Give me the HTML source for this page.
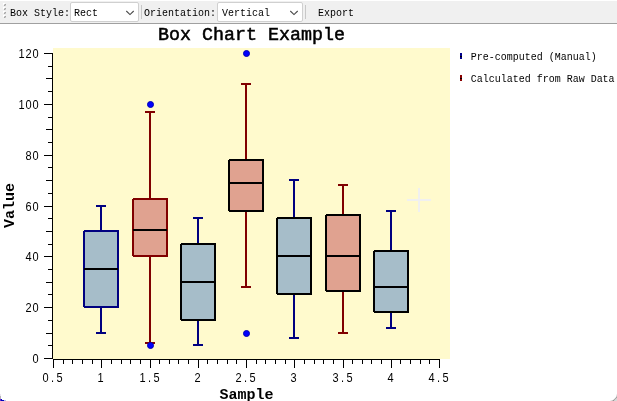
<!DOCTYPE html>
<html lang="en">
<head>
<meta charset="utf-8">
<title>Box Chart Example</title>
<style>
html,body{margin:0;padding:0;background:#fff;}
body{width:617px;height:401px;overflow:hidden;position:relative;font-family:"Liberation Mono",monospace;font-size:12px;color:#000;}
svg{display:block;overflow:visible;}
svg text{font-family:"Liberation Sans",sans-serif;fill:#000;text-anchor:middle;}
svg text.m{font-family:"Liberation Mono",monospace;text-anchor:start;stroke:#000;stroke-width:0;white-space:pre;}
.t{font-family:"Liberation Mono",monospace;font-size:11.8px;line-height:16px;white-space:pre;transform-origin:0 0;transform:scaleX(0.8474);}
#toolbar{position:absolute;left:0;top:1px;width:617px;height:22px;background:#f0f0f0;border-bottom:1px solid #a0a0a0;}
#toolbar .grip{position:absolute;left:3px;top:2px;}
#toolbar .lbl{position:absolute;top:4px;height:16px;}
#toolbar .combo{position:absolute;top:1px;height:18px;background:#fff;border:1px solid #d0d0d0;border-radius:2px;}
#toolbar .combo .val{position:absolute;left:2px;top:2px;}
#toolbar .combo .chev{position:absolute;right:3px;top:7px;}
#toolbar .sep{position:absolute;top:4px;width:1px;height:14px;background:#c8c8c8;}
#toolbar .btn{position:absolute;top:4px;height:16px;}
#chart{position:absolute;left:0;top:24px;}
</style>
</head>
<body>
<div id="toolbar">
  <svg class="grip" width="4" height="16" viewBox="0 0 4 16" shape-rendering="crispEdges"><path d="M0 0h2v1h-1v1h-1zM0 4h2v1h-1v1h-1zM0 8h2v1h-1v1h-1zM0 12h2v1h-1v1h-1z" fill="#fff"/><path d="M1 1h2v2h-2zM1 5h2v2h-2zM1 9h2v2h-2zM1 13h2v2h-2z" fill="#cacaca"/><path d="M2 1h1v1h-1zM1 2h1v1h-1zM2 5h1v1h-1zM1 6h1v1h-1zM2 9h1v1h-1zM1 10h1v1h-1zM2 13h1v1h-1zM1 14h1v1h-1z" fill="#a6a6a6"/></svg>
  <div class="lbl t" style="left:9.6px">Box Style:</div>
  <div class="combo" style="left:70px;width:67px"><div class="val t" style="left:3px">Rect</div><svg class="chev" width="10" height="6" viewBox="0 0 10 6"><path d="M1.3 1 L5 4.6 L8.7 1" fill="none" stroke="#4a4a4a" stroke-width="1.1"/></svg></div>
  <div class="sep" style="left:141px"></div>
  <div class="lbl t" style="left:144.4px">Orientation:</div>
  <div class="combo" style="left:217px;width:84px"><div class="val t" style="left:3.6px">Vertical</div><svg class="chev" width="10" height="6" viewBox="0 0 10 6"><path d="M1.3 1 L5 4.6 L8.7 1" fill="none" stroke="#4a4a4a" stroke-width="1.1"/></svg></div>
  <div class="sep" style="left:305px"></div>
  <div class="btn t" style="left:318.2px">Export</div>
</div>
<svg id="chart" width="617" height="377" viewBox="0 24 617 377">
<rect x="0" y="24" width="617" height="377" fill="#fff"/>
<rect x="53" y="48" width="397" height="311" fill="#fffacd"/>
<text class="m" transform="translate(158 39.5) scale(1.0184 1)" font-size="18" style="stroke-width:0.5px">Box Chart Example</text>
<g stroke="#000" stroke-width="1" shape-rendering="crispEdges">
<line x1="52.5" y1="53" x2="52.5" y2="359"/>
<line x1="44" y1="358.5" x2="52" y2="358.5"/>
<line x1="48" y1="345.5" x2="52" y2="345.5"/>
<line x1="46" y1="333.5" x2="52" y2="333.5"/>
<line x1="48" y1="320.5" x2="52" y2="320.5"/>
<line x1="44" y1="307.5" x2="52" y2="307.5"/>
<line x1="48" y1="294.5" x2="52" y2="294.5"/>
<line x1="46" y1="282.5" x2="52" y2="282.5"/>
<line x1="48" y1="269.5" x2="52" y2="269.5"/>
<line x1="44" y1="256.5" x2="52" y2="256.5"/>
<line x1="48" y1="244.5" x2="52" y2="244.5"/>
<line x1="46" y1="231.5" x2="52" y2="231.5"/>
<line x1="48" y1="218.5" x2="52" y2="218.5"/>
<line x1="44" y1="206.5" x2="52" y2="206.5"/>
<line x1="48" y1="193.5" x2="52" y2="193.5"/>
<line x1="46" y1="180.5" x2="52" y2="180.5"/>
<line x1="48" y1="167.5" x2="52" y2="167.5"/>
<line x1="44" y1="155.5" x2="52" y2="155.5"/>
<line x1="48" y1="142.5" x2="52" y2="142.5"/>
<line x1="46" y1="129.5" x2="52" y2="129.5"/>
<line x1="48" y1="117.5" x2="52" y2="117.5"/>
<line x1="44" y1="104.5" x2="52" y2="104.5"/>
<line x1="48" y1="91.5" x2="52" y2="91.5"/>
<line x1="46" y1="78.5" x2="52" y2="78.5"/>
<line x1="48" y1="66.5" x2="52" y2="66.5"/>
<line x1="44" y1="53.5" x2="52" y2="53.5"/>
<line x1="53" y1="359.5" x2="440" y2="359.5"/>
<line x1="53.5" y1="360" x2="53.5" y2="368"/>
<line x1="63.5" y1="360" x2="63.5" y2="364"/>
<line x1="72.5" y1="360" x2="72.5" y2="364"/>
<line x1="82.5" y1="360" x2="82.5" y2="364"/>
<line x1="92.5" y1="360" x2="92.5" y2="364"/>
<line x1="101.5" y1="360" x2="101.5" y2="368"/>
<line x1="111.5" y1="360" x2="111.5" y2="364"/>
<line x1="121.5" y1="360" x2="121.5" y2="364"/>
<line x1="130.5" y1="360" x2="130.5" y2="364"/>
<line x1="140.5" y1="360" x2="140.5" y2="364"/>
<line x1="150.5" y1="360" x2="150.5" y2="368"/>
<line x1="159.5" y1="360" x2="159.5" y2="364"/>
<line x1="169.5" y1="360" x2="169.5" y2="364"/>
<line x1="178.5" y1="360" x2="178.5" y2="364"/>
<line x1="188.5" y1="360" x2="188.5" y2="364"/>
<line x1="198.5" y1="360" x2="198.5" y2="368"/>
<line x1="207.5" y1="360" x2="207.5" y2="364"/>
<line x1="217.5" y1="360" x2="217.5" y2="364"/>
<line x1="227.5" y1="360" x2="227.5" y2="364"/>
<line x1="236.5" y1="360" x2="236.5" y2="364"/>
<line x1="246.5" y1="360" x2="246.5" y2="368"/>
<line x1="256.5" y1="360" x2="256.5" y2="364"/>
<line x1="265.5" y1="360" x2="265.5" y2="364"/>
<line x1="275.5" y1="360" x2="275.5" y2="364"/>
<line x1="285.5" y1="360" x2="285.5" y2="364"/>
<line x1="294.5" y1="360" x2="294.5" y2="368"/>
<line x1="304.5" y1="360" x2="304.5" y2="364"/>
<line x1="314.5" y1="360" x2="314.5" y2="364"/>
<line x1="323.5" y1="360" x2="323.5" y2="364"/>
<line x1="333.5" y1="360" x2="333.5" y2="364"/>
<line x1="343.5" y1="360" x2="343.5" y2="368"/>
<line x1="352.5" y1="360" x2="352.5" y2="364"/>
<line x1="362.5" y1="360" x2="362.5" y2="364"/>
<line x1="371.5" y1="360" x2="371.5" y2="364"/>
<line x1="381.5" y1="360" x2="381.5" y2="364"/>
<line x1="391.5" y1="360" x2="391.5" y2="368"/>
<line x1="400.5" y1="360" x2="400.5" y2="364"/>
<line x1="410.5" y1="360" x2="410.5" y2="364"/>
<line x1="420.5" y1="360" x2="420.5" y2="364"/>
<line x1="429.5" y1="360" x2="429.5" y2="364"/>
<line x1="439.5" y1="360" x2="439.5" y2="368"/>
</g>
<g>
<text transform="scale(0.88 1)" x="40.34" y="363" font-size="12.5">0</text>
<text transform="scale(0.88 1)" x="32.39 40.34" y="312" font-size="12.5">20</text>
<text transform="scale(0.88 1)" x="32.39 40.34" y="261" font-size="12.5">40</text>
<text transform="scale(0.88 1)" x="32.39 40.34" y="211" font-size="12.5">60</text>
<text transform="scale(0.88 1)" x="32.39 40.34" y="160" font-size="12.5">80</text>
<text transform="scale(0.88 1)" x="24.43 32.39 40.34" y="109" font-size="12.5">100</text>
<text transform="scale(0.88 1)" x="24.43 32.39 40.34" y="58" font-size="12.5">120</text>
<text transform="scale(0.88 1)" x="51.7 59.66 67.61" y="382" font-size="12.5">0.5</text>
<text transform="scale(0.88 1)" x="114.2" y="382" font-size="12.5">1</text>
<text transform="scale(0.88 1)" x="161.93 169.89 177.84" y="382" font-size="12.5">1.5</text>
<text transform="scale(0.88 1)" x="224.43" y="382" font-size="12.5">2</text>
<text transform="scale(0.88 1)" x="271.02 278.98 286.93" y="382" font-size="12.5">2.5</text>
<text transform="scale(0.88 1)" x="333.52" y="382" font-size="12.5">3</text>
<text transform="scale(0.88 1)" x="381.25 389.2 397.16" y="382" font-size="12.5">3.5</text>
<text transform="scale(0.88 1)" x="443.75" y="382" font-size="12.5">4</text>
<text transform="scale(0.88 1)" x="490.34 498.3 506.25" y="382" font-size="12.5">4.5</text>
</g>
<text class="m" transform="translate(219.5 399) scale(0.9802 1)" font-size="15.3" font-weight="bold">Sample</text>
<text class="m" transform="translate(14 228) rotate(-90) scale(0.9802 1)" font-size="15.3" font-weight="bold">Value</text>
<g stroke-width="2" stroke-linecap="butt" stroke-linejoin="bevel" shape-rendering="crispEdges" fill="none">
<g>
<path d="M101 206V231M101 307V333M96 206H106M96 333H106" stroke="#000080"/>
<rect x="84" y="231" width="34" height="76" fill="#a6bdc9" stroke="#000080"/>
<line x1="84" y1="269" x2="118" y2="269" stroke="#000"/>
</g>
<g>
<path d="M198 218V244M198 320V345M193 218H203M193 345H203" stroke="#000080"/>
<rect x="181" y="244" width="34" height="76" fill="#a6bdc9" stroke="#000000"/>
<line x1="181" y1="282" x2="215" y2="282" stroke="#000"/>
</g>
<g>
<path d="M294 180V218M294 294V338M289 180H299M289 338H299" stroke="#000080"/>
<rect x="277" y="218" width="34" height="76" fill="#a6bdc9" stroke="#000000"/>
<line x1="277" y1="256" x2="311" y2="256" stroke="#000"/>
</g>
<g>
<path d="M391 211V251M391 312V328M386 211H396M386 328H396" stroke="#000080"/>
<rect x="374" y="251" width="34" height="61" fill="#a6bdc9" stroke="#000000"/>
<line x1="374" y1="287" x2="408" y2="287" stroke="#000"/>
</g>
<g>
<path d="M150 112V199M150 256V343M145 112H155M145 343H155" stroke="#800000"/>
<rect x="133" y="199" width="34" height="57" fill="#e0a290" stroke="#800000"/>
<line x1="133" y1="230" x2="167" y2="230" stroke="#000"/>
<circle cx="150.5" cy="104.5" r="3" fill="#0000ff" stroke="#0000b4" stroke-width="1" shape-rendering="auto"/>
<circle cx="150.5" cy="345.5" r="3" fill="#0000ff" stroke="#0000b4" stroke-width="1" shape-rendering="auto"/>
</g>
<g>
<path d="M246 84V160M246 211V287M241 84H251M241 287H251" stroke="#800000"/>
<rect x="229" y="160" width="34" height="51" fill="#e0a290" stroke="#000000"/>
<line x1="229" y1="183" x2="263" y2="183" stroke="#000"/>
<circle cx="246.5" cy="53.5" r="3" fill="#0000ff" stroke="#0000b4" stroke-width="1" shape-rendering="auto"/>
<circle cx="246.5" cy="333.5" r="3" fill="#0000ff" stroke="#0000b4" stroke-width="1" shape-rendering="auto"/>
</g>
<g>
<path d="M343 185V215M343 291V333M338 185H348M338 333H348" stroke="#800000"/>
<rect x="326" y="215" width="34" height="76" fill="#e0a290" stroke="#000000"/>
<line x1="326" y1="256" x2="360" y2="256" stroke="#000"/>
</g>
</g>
<path d="M407 199h24v2h-24zM418 188h2v24h-2z" fill="#f0f0f0"/>
<g>
<rect x="460" y="53" width="2" height="6" fill="#00008b"/><rect x="460" y="56" width="2" height="1" fill="#000"/>
<text class="m" transform="translate(470.8 60) scale(0.8473 1)" font-size="11.8">Pre-computed (Manual)</text>
<rect x="460" y="75" width="2" height="6" fill="#8b0000"/><rect x="460" y="78" width="2" height="1" fill="#000"/>
<text class="m" transform="translate(470.8 82) scale(0.8473 1)" font-size="11.8">Calculated from Raw Data</text>
</g>
<g shape-rendering="crispEdges"><rect x="0" y="394" width="1" height="2" fill="#ebe6f2"/><rect x="0" y="396" width="1" height="3" fill="#b4b4b4"/><rect x="0" y="399" width="1" height="2" fill="#6a2ad0"/><rect x="1" y="399" width="1" height="1" fill="#0000c8"/><rect x="1" y="400" width="3" height="1" fill="#0000be"/><rect x="4" y="400" width="2" height="1" fill="#b4c3ea"/></g>
<g shape-rendering="crispEdges"><rect x="616" y="394" width="1" height="1" fill="#f2f2f2"/><rect x="616" y="395" width="1" height="1" fill="#e2e2e2"/><rect x="616" y="396" width="1" height="1" fill="#c8c8c8"/><rect x="616" y="397" width="1" height="1" fill="#a2a2a2"/><rect x="615" y="397" width="1" height="1" fill="#e6e6e6"/><rect x="615" y="398" width="1" height="1" fill="#a8a8a8"/><rect x="614" y="398" width="1" height="1" fill="#ececec"/><rect x="614" y="399" width="1" height="1" fill="#a8a8a8"/><rect x="613" y="399" width="1" height="1" fill="#e6e6e6"/><rect x="613" y="400" width="1" height="1" fill="#969696"/><rect x="612" y="400" width="1" height="1" fill="#c4c4c4"/><rect x="611" y="400" width="1" height="1" fill="#e0e0e0"/><rect x="610" y="400" width="1" height="1" fill="#f2f2f2"/><rect x="616" y="398" width="1" height="1" fill="#d0d0d0"/><rect x="616" y="399" width="1" height="1" fill="#d8d8d8"/><rect x="616" y="400" width="1" height="1" fill="#dadada"/><rect x="615" y="399" width="1" height="1" fill="#d2d2d2"/><rect x="615" y="400" width="1" height="1" fill="#d8d8d8"/><rect x="614" y="400" width="1" height="1" fill="#cecece"/></g>
</svg>
</body>
</html>
